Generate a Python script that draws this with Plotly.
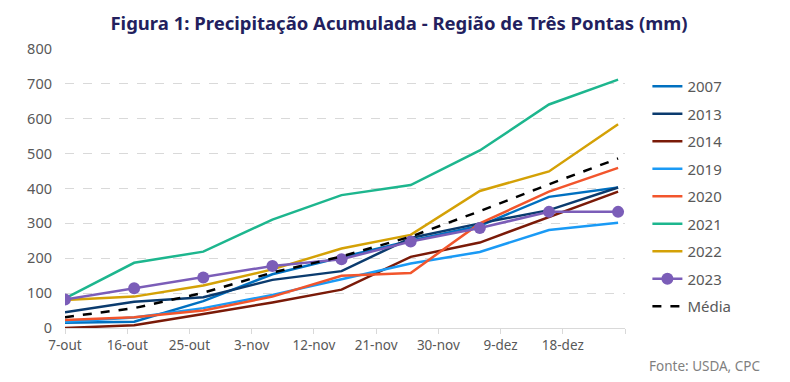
import plotly.graph_objects as go

dates = ["2023-10-07", "2023-10-17", "2023-10-27", "2023-11-06", "2023-11-16",
         "2023-11-26", "2023-12-06", "2023-12-16", "2023-12-26"]

s2007 = [15, 18, 77, 154, 203, 250, 293, 376, 403]
s2013 = [45, 75, 88, 138, 163, 258, 300, 338, 403]
s2014 = [0, 8, 40, 73, 110, 204, 245, 319, 391]
s2019 = [18, 30, 57, 95, 140, 185, 218, 281, 302]
s2020 = [23, 31, 50, 90, 150, 158, 300, 391, 459]
s2021 = [85, 187, 219, 311, 381, 410, 509, 641, 712]
s2022 = [80, 90, 122, 168, 228, 267, 393, 449, 584]
s2023 = [82, 114, 145, 178, 197, 248, 287, 333, 333]
media = [31, 57, 101, 159, 205, 262, 335, 412, 486]

tick_vals = ["2023-10-07", "2023-10-16", "2023-10-25", "2023-11-03", "2023-11-12",
             "2023-11-21", "2023-11-30", "2023-12-09", "2023-12-18", "2023-12-27"]
tick_text = ["7-out", "16-out", "25-out", "3-nov", "12-nov", "21-nov", "30-nov",
             "9-dez", "18-dez", ""]

series = [
    ("2007", s2007, "#0070C0"),
    ("2013", s2013, "#0B3B6E"),
    ("2014", s2014, "#7A1A08"),
    ("2019", s2019, "#1A9AF5"),
    ("2020", s2020, "#F2552C"),
    ("2021", s2021, "#1DB68E"),
    ("2022", s2022, "#D4A106"),
]

fig = go.Figure()
for name, vals, col in series:
    fig.add_trace(go.Scatter(x=dates, y=vals, name=name, mode="lines",
                             line=dict(color=col, width=2.5), legendgroup=name))
fig.add_trace(go.Scatter(x=dates, y=s2023, name="2023", mode="lines+markers",
                         line=dict(color="#7B5DB8", width=2.5),
                         marker=dict(size=12, color="#7B5DB8"), legendgroup="2023"))
fig.add_trace(go.Scatter(x=dates, y=media, name="Média", mode="lines",
                         line=dict(color="black", width=2.5, dash="dash"), legendgroup="media"))

fig.update_layout(
    width=782, height=374,
    margin=dict(l=57, r=165, t=41, b=54),
    paper_bgcolor="white", plot_bgcolor="white",
    font=dict(family="Noto Sans", size=13, color="#595959"),
    title=dict(text="<b>Figura 1: Precipitação Acumulada - Região de Três Pontas (mm)</b>",
               x=0.5, xref="container", xanchor="center", y=0.958, yanchor="middle",
               font=dict(family="Noto Sans", size=18.5, color="#231F5E")),
    legend=dict(x=1.04, xanchor="left", y=0.925, yanchor="top",
                font=dict(size=15, color="#595959"), tracegroupgap=5,
                bgcolor="rgba(0,0,0,0)"),
    xaxis=dict(type="date", range=["2023-10-07", "2023-12-27"],
               tickvals=tick_vals, ticktext=tick_text,
               showgrid=False, showline=True, linecolor="#D9D9D9", linewidth=1,
               ticks="outside", tickcolor="#D9D9D9", ticklen=5, zeroline=False,
               tickfont=dict(size=13.5)),
    yaxis=dict(range=[0, 800], dtick=100, showgrid=True, gridcolor="#D9D9D9",
               griddash="dash", zeroline=False, showline=False, ticklabelstandoff=12,
               tickfont=dict(size=14.5)),
)
fig.add_annotation(text="Fonte: USDA, CPC", xref="paper", yref="paper",
                   x=1.245, y=-0.136, xanchor="right", yanchor="middle", showarrow=False,
                   font=dict(size=13.5, color="#7F7F7F"))

fig.write_html("out.html")
